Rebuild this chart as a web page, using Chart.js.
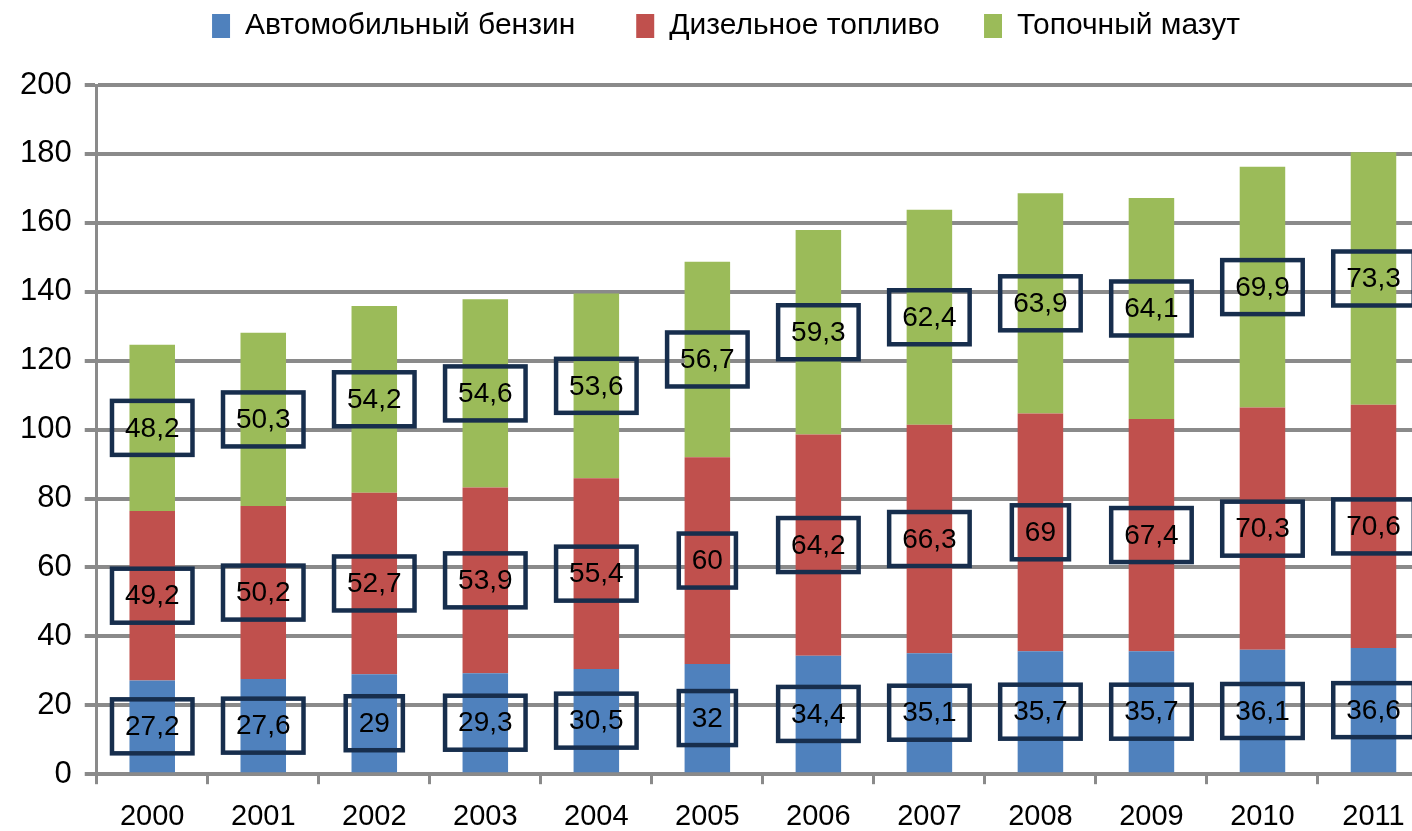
<!DOCTYPE html>
<html>
<head>
<meta charset="utf-8">
<script src="https://cdn.jsdelivr.net/npm/chart.js@4"></script>
<style>
  html, body { margin: 0; padding: 0; background: #fff; overflow: hidden; }
  #wrap { width: 1440px; height: 849px; position: relative; }
</style>
</head>
<body>
<div id="wrap"><canvas id="chart"></canvas></div>
<script>
const years = ['2000', '2001', '2002', '2003', '2004', '2005', '2006', '2007', '2008', '2009', '2010', '2011'];
const benzin = [27.2, 27.6, 29, 29.3, 30.5, 32, 34.4, 35.1, 35.7, 35.7, 36.1, 36.6];
const diesel = [49.2, 50.2, 52.7, 53.9, 55.4, 60, 64.2, 66.3, 69, 67.4, 70.3, 70.6];
const mazut = [48.2, 50.3, 54.2, 54.6, 53.6, 56.7, 59.3, 62.4, 63.9, 64.1, 69.9, 73.3];
const yTicks = [0, 20, 40, 60, 80, 100, 120, 140, 160, 180, 200];

const gridGrey = '#8a8a8a';
const fontFam = '"Liberation Sans", Arial, sans-serif';

// boxed value labels in the middle of each segment
const boxLabels = {
  id: 'boxLabels',
  afterDatasetsDraw(chart) {
    const ctx = chart.ctx;
    ctx.save();
    ctx.font = '28px ' + fontFam;
    ctx.textAlign = 'center';
    ctx.textBaseline = 'middle';
    chart.data.datasets.forEach((ds, di) => {
      const meta = chart.getDatasetMeta(di);
      meta.data.forEach((bar, i) => {
        const txt = String(ds.data[i]).replace('.', ',');
        const cx = bar.x;
        const cy = (bar.y + bar.base) / 2;
        const w = ctx.measureText(txt).width + 26;
        const h = 54;
        ctx.lineWidth = 4.5;
        ctx.strokeStyle = '#172e4d';
        ctx.strokeRect(cx - w / 2, cy - h / 2, w, h);
        ctx.fillStyle = '#000';
        ctx.fillText(txt, cx, cy + 1);
      });
    });
    ctx.restore();
  }
};

// extra room under the legend, and nudge it right a little
const legendGap = {
  id: 'legendGap',
  afterInit(chart) {
    const fit = chart.legend.fit;
    chart.legend.fit = function () {
      fit.call(this);
      this.height += 34;
    };
  },
  afterLayout(chart) {
    chart.legend.left += 8;
    chart.legend.right += 8;
  }
};

new Chart(document.getElementById('chart'), {
  type: 'bar',
  data: {
    labels: years,
    datasets: [
      { label: 'Автомобильный бензин      ', data: benzin, backgroundColor: '#4f81bd' },
      { label: 'Дизельное топливо    ', data: diesel, backgroundColor: '#c0504d' },
      { label: 'Топочный мазут', data: mazut, backgroundColor: '#9bbb59' }
    ]
  },
  options: {
    responsive: true,
    maintainAspectRatio: false,
    animation: false,
    layout: { padding: { top: 0, right: 11, left: 7, bottom: 0 } },
    datasets: { bar: { categoryPercentage: 0.41, barPercentage: 1 } },
    plugins: {
      legend: {
        position: 'top',
        labels: {
          boxWidth: 18,
          boxHeight: 24,
          padding: 11,
          color: '#000',
          font: { family: fontFam, size: 30 }
        }
      },
      tooltip: { enabled: false }
    },
    scales: {
      x: {
        stacked: true,
        offset: true,
        grid: {
          offset: true,
          drawOnChartArea: false,
          drawTicks: true,
          tickLength: 10,
          color: gridGrey,
          lineWidth: 3
        },
        border: { display: true, color: gridGrey, width: 3 },
        ticks: {
          color: '#000',
          padding: 15,
          font: { family: fontFam, size: 29 }
        }
      },
      y: {
        stacked: true,
        min: 0,
        max: 200,
        afterBuildTicks(axis) { axis.ticks = yTicks.map(v => ({ value: v })); },
        grid: { color: gridGrey, lineWidth: 4, tickLength: 12 },
        border: { display: true, color: gridGrey, width: 3 },
        ticks: {
          color: '#000',
          padding: 13,
          font: { family: fontFam, size: 31 }
        }
      }
    }
  },
  plugins: [boxLabels, legendGap]
});
</script>
</body>
</html>
